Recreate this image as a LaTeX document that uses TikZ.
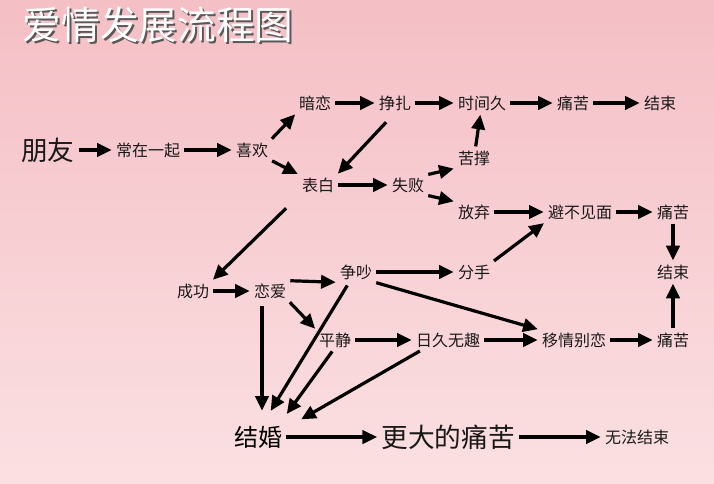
\documentclass[tikz,border=0pt]{standalone}
\usepackage{fontspec}
\setmainfont{Noto Sans CJK SC}
\usetikzlibrary{arrows.meta,shadings}
\definecolor{bgA}{HTML}{F4BFC5}
\definecolor{bgB}{HTML}{FBE0E2}
\tikzset{
  lbl/.style={font=\fontsize{12}{12}\selectfont, inner sep=2pt, text=black!90},
  big/.style={font=\fontsize{20}{20}\selectfont, inner sep=2pt, text=black!90},
  ar/.style={line width=2.4pt, -{Triangle[length=11pt,width=10pt]}, shorten >=1pt, shorten <=1pt}
}
\begin{document}
\begin{tikzpicture}[x=0.75pt,y=-0.75pt]
\shade[top color=bgA, bottom color=bgB] (0,0) rectangle (714,483);
\useasboundingbox (0,0) rectangle (714,483);
\node[font=\fontsize{29}{29}\selectfont, text=gray!70!black, anchor=west] at (20,27) {爱情发展流程图};
\node[font=\fontsize{29}{29}\selectfont, text=white, anchor=west] (title) at (18,25) {爱情发展流程图};
\node[big] (py) at (48,150) {朋友};
\node[lbl] (czyq) at (148,150) {常在一起};
\node[lbl] (xh) at (252,150) {喜欢};
\node[lbl] (al) at (315,103) {暗恋};
\node[lbl] (zz) at (395,103) {挣扎};
\node[lbl] (sjj) at (482,103) {时间久};
\node[lbl] (tk1) at (573,103) {痛苦};
\node[lbl] (js1) at (660,103) {结束};
\node[lbl] (kc) at (474,158) {苦撑};
\node[lbl] (bb) at (318,185) {表白};
\node[lbl] (sb) at (408,185) {失败};
\node[lbl] (fq) at (474,212) {放弃};
\node[lbl] (bbjm) at (580,212) {避不见面};
\node[lbl] (tk2) at (673,212) {痛苦};
\node[lbl] (cg) at (193,291) {成功};
\node[lbl] (la) at (270,291) {恋爱};
\node[lbl] (zc) at (356,272) {争吵};
\node[lbl] (fs) at (474,272) {分手};
\node[lbl] (js2) at (673,272) {结束};
\node[lbl] (pj) at (335,340) {平静};
\node[lbl] (jjwq) at (448,340) {日久无趣};
\node[lbl] (yqbl) at (574,340) {移情别恋};
\node[lbl] (tk3) at (673,340) {痛苦};
\node[font=\fontsize{18}{18}\selectfont, inner sep=2pt] (jh) at (258,437) {结婚};
\node[big] (gd) at (448,437) {更大的痛苦};
\node[lbl] (wf) at (637,437) {无法结束};
\draw[ar] (py) -- (czyq);
\draw[ar] (czyq) -- (xh);
\draw[ar] (xh.north east) -- (al.south west);
\draw[ar] (xh.south east) -- (bb.north west);
\draw[ar] (al) -- (zz);
\draw[ar] (zz.south) ++(-8,8) -- (bb.north east);
\draw[ar] (zz) -- (sjj);
\draw[ar] (sjj) -- (tk1);
\draw[ar] (tk1) -- (js1);
\draw[ar] (kc) -- (sjj);
\draw[ar] (bb) -- (sb);
\draw[ar] (sb.north east) -- (kc.south west);
\draw[ar] (sb.south east) -- (fq.north west);
\draw[ar] (fq) -- (bbjm);
\draw[ar] (bbjm) -- (tk2);
\draw[ar] (tk2) -- (js2);
\draw[ar] (tk3) -- (js2);
\draw[ar] (bb.south west) ++(-12,12) -- (cg.north east);
\draw[ar] (cg) -- (la);
\draw[ar] (la.north east) -- (zc.south west);
\draw[ar] (la.south east) -- (pj.north west);
\draw[ar] (zc) -- (fs);
\draw[ar] (fs.north east) -- (bbjm.south west);
\draw[ar] (zc.south east) -- (yqbl.north west);
\draw[ar] (pj) -- (jjwq);
\draw[ar] (jjwq) -- (yqbl);
\draw[ar] (yqbl) -- (tk3);
\draw[ar] (262,305) -- (262,412);
\draw[ar] (zc.south) ++(-8,2) -- (270,412);
\draw[ar] (pj.south) ++(-2,0) -- (286,415);
\draw[ar] (jjwq.south west) ++(8,0) -- (300,420);
\draw[ar] (jh) -- (gd);
\draw[ar] (gd) -- (wf);
\end{tikzpicture}
\end{document}
